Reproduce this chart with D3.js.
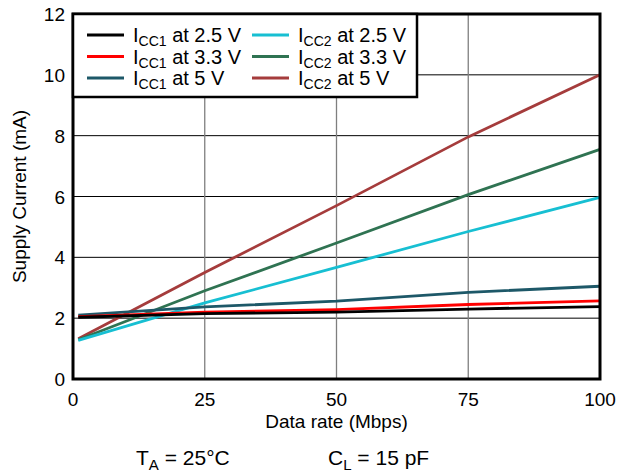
<!DOCTYPE html>
<html><head><meta charset="utf-8">
<script src="https://cdn.jsdelivr.net/npm/d3@7"></script>
<style>body{margin:0;background:#fff;} svg{display:block;} text{font-family:"Liberation Sans",Arial,sans-serif;}</style>
</head><body><svg id="c" width="618" height="473"></svg>
<script>
const dataRate = [1, 25, 50, 75, 100];
const icc1_25 = [2.03, 2.15, 2.2, 2.3, 2.38];
const icc1_33 = [2.05, 2.2, 2.28, 2.45, 2.57];
const icc1_5  = [2.1, 2.37, 2.56, 2.85, 3.05];
const icc2_25 = [1.27, 2.5, 3.67, 4.85, 5.97];
const icc2_33 = [1.29, 2.9, 4.47, 6.06, 7.55];
const icc2_5  = [1.32, 3.5, 5.7, 7.96, 10.0];
const xTicks = [0, 25, 50, 75, 100];
const yTicks = [0, 2, 4, 6, 8, 10, 12];

const series = [
  {sub:"CC1", v:"2.5 V", vals:icc1_25, color:"#000000"},
  {sub:"CC1", v:"3.3 V", vals:icc1_33, color:"#ff0000"},
  {sub:"CC1", v:"5 V",   vals:icc1_5,  color:"#1d5868"},
  {sub:"CC2", v:"2.5 V", vals:icc2_25, color:"#17bfd2"},
  {sub:"CC2", v:"3.3 V", vals:icc2_33, color:"#2f7352"},
  {sub:"CC2", v:"5 V",   vals:icc2_5,  color:"#a53c3c"}
];
const drawOrder = [5,4,3,2,1,0];

const svg = d3.select("#c");
const L=73, R=600, T=14, B=379;
const x = d3.scaleLinear().domain([0,100]).range([L,R]);
const y = d3.scaleLinear().domain([0,12]).range([B,T]);

svg.append("g").selectAll("line").data(yTicks.slice(1,-1)).join("line")
  .attr("x1",L).attr("x2",R).attr("y1",d=>y(d)).attr("y2",d=>y(d))
  .attr("stroke","#000").attr("stroke-width",1);
svg.append("g").selectAll("line").data(xTicks.slice(1,-1)).join("line")
  .attr("y1",T).attr("y2",B).attr("x1",d=>x(d)).attr("x2",d=>x(d))
  .attr("stroke","#7f7f7f").attr("stroke-width",1.3);

const line = d3.line().x((d,i)=>x(dataRate[i])).y(d=>y(d));
drawOrder.forEach(k=>{
  const s=series[k];
  svg.append("path").attr("d",line(s.vals)).attr("fill","none")
    .attr("stroke",s.color).attr("stroke-width",2.8);
});

svg.append("rect").attr("x",L).attr("y",T).attr("width",R-L).attr("height",B-T)
  .attr("fill","none").attr("stroke","#000").attr("stroke-width",3);

const fs = 19;
svg.append("g").selectAll("text").data(yTicks).join("text")
  .attr("x",L-8).attr("y",d=>y(d)+7).attr("text-anchor","end")
  .attr("font-size",fs).text(d=>d);
svg.append("g").selectAll("text").data(xTicks).join("text")
  .attr("x",d=>x(d)).attr("y",B+27).attr("text-anchor","middle")
  .attr("font-size",fs).text(d=>d);

svg.append("text").attr("x",(L+R)/2).attr("y",428).attr("text-anchor","middle")
  .attr("font-size",fs).text("Data rate (Mbps)");
svg.append("text").attr("transform",`translate(26,${(T+B)/2}) rotate(-90)`)
  .attr("text-anchor","middle").attr("font-size",fs).text("Supply Current (mA)");

const afs = 21;
const a1 = svg.append("text").attr("x",136).attr("y",465).attr("font-size",afs);
a1.append("tspan").text("T");
a1.append("tspan").attr("font-size",15).attr("dy",5).text("A");
a1.append("tspan").attr("dy",-5).text(" = 25°C");
const a2 = svg.append("text").attr("x",328).attr("y",465).attr("font-size",afs);
a2.append("tspan").text("C");
a2.append("tspan").attr("font-size",15).attr("dy",5).text("L");
a2.append("tspan").attr("dy",-5).text(" = 15 pF");

const lfs = 20;
const lg = svg.append("g");
lg.append("rect").attr("x",L).attr("y",T).attr("width",417-L).attr("height",97-T)
  .attr("fill","#fff").attr("stroke","#000").attr("stroke-width",2.5);
const colX = [87, 252], rowY = [35, 56.5, 78];
series.forEach((s,i)=>{
  const c = Math.floor(i/3), r = i%3;
  const cx = colX[c], cy = rowY[r];
  lg.append("line").attr("x1",cx).attr("x2",cx+37).attr("y1",cy).attr("y2",cy)
    .attr("stroke",s.color).attr("stroke-width",3);
  const t = lg.append("text").attr("x",cx+46).attr("y",cy+7).attr("font-size",lfs);
  t.append("tspan").text("I");
  t.append("tspan").attr("font-size",14).attr("dy",4).text(s.sub);
  t.append("tspan").attr("dy",-4).text(" at "+s.v);
});
</script></body></html>
